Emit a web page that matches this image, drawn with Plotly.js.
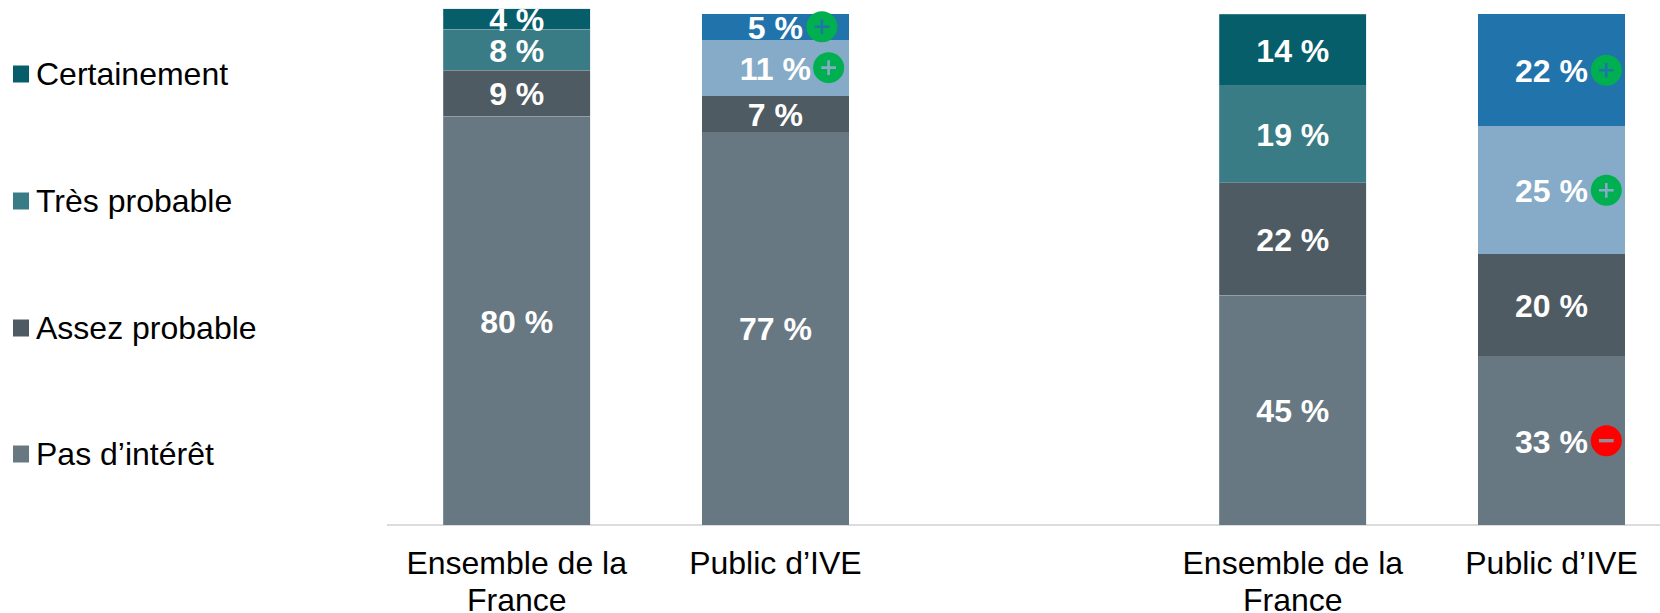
<!DOCTYPE html>
<html>
<head>
<meta charset="utf-8">
<script src="https://cdn.plot.ly/plotly-3.0.1.min.js"></script>
<style>html,body{margin:0;padding:0;background:#fff;overflow:hidden}</style>
</head>
<body>
<div id="chart" style="width:1660px;height:613px"></div>
<script>
// ---- data ----
var categoryFirstLine = ["Ensemble de la", "Public d’IVE", "Ensemble de la", "Public d’IVE"];
var categorySecondLine = ["France", "", "France", ""];
var seriesNames = ["Pas d’intérêt", "Assez probable", "Très probable", "Certainement"];
var pasInteret = [80, 77, 45, 33];
var assezProbable = [9, 7, 22, 20];
var tresProbable = [8, 11, 19, 25];
var certainement = [4, 5, 14, 22];
// significance flags: [bar index, series index, sign]
var badgeBar = [1, 1, 3, 3, 3];
var badgeSeries = [3, 2, 3, 2, 0];
var badgeSign = ["+", "+", "+", "+", "-"];

// ---- style / layout ----
var FONT = "Liberation Sans, Arial, sans-serif";
var xPos = [0, 1, 3, 4];
var pxPerUnit = 258.7;
var pxPerPct = 5.11;
var barWidth = 0.568;
var colorsA = ["#687882", "#4f5b62", "#3a7c85", "#075e6b"];
var colorsB = ["#687882", "#4f5b62", "#85abc8", "#2173ab"];
var badgeDx = [46.5, 53.2, 54.8, 54.8, 54.8];
var allSeries = [pasInteret, assezProbable, tresProbable, certainement];

function stackMid(bar, series) {
  var sum = 0;
  for (var i = 0; i < series; i++) sum += allSeries[i][bar];
  return sum + allSeries[series][bar] / 2;
}

var traces = allSeries.map(function (vals, s) {
  return {
    type: "bar",
    name: seriesNames[s],
    x: xPos,
    y: vals,
    width: barWidth,
    showlegend: false,
    hoverinfo: "skip",
    textposition: "none",
    cliponaxis: false,
    marker: {
      color: [colorsA[s], colorsB[s], colorsA[s], colorsB[s]],
      line: { color: "rgba(190,200,206,0.4)", width: [0.75, 0, 0.75, 0] }
    }
  };
});

// value labels, one text trace per series, sitting at each segment's middle
allSeries.forEach(function (vals, s) {
  traces.push({
    type: "scatter", mode: "text", x: xPos,
    y: vals.map(function (v, b) { return stackMid(b, s) - 4 / pxPerPct; }),
    text: vals.map(function (v) { return v + " %"; }),
    textposition: "middle center",
    textfont: { family: FONT, size: 32, color: "#ffffff", weight: 700 },
    showlegend: false, hoverinfo: "skip", cliponaxis: false
  });
});

var bx = badgeBar.map(function (b, i) { return xPos[b] + badgeDx[i] / pxPerUnit; });
var by = badgeBar.map(function (b, i) { return stackMid(b, badgeSeries[i]); });

traces.push({
  type: "scatter", mode: "markers", x: bx, y: by, showlegend: false, hoverinfo: "skip", cliponaxis: false,
  marker: { symbol: "circle", size: 31, line: { width: 0 },
    color: badgeSign.map(function (s) { return s === "+" ? "#00b050" : "#ff0000"; }) }
});
traces.push({
  type: "scatter", mode: "markers", x: bx, y: by, showlegend: false, hoverinfo: "skip", cliponaxis: false,
  marker: {
    symbol: badgeSign.map(function (s) { return s === "+" ? "cross-thin" : "line-ew"; }),
    size: 10.5, color: "rgba(0,0,0,0)",
    line: { width: badgeSign.map(function (s) { return s === "+" ? 2.6 : 3.4; }),
      color: badgeBar.map(function (b, i) { return badgeSign[i] === "+" ? colorsB[badgeSeries[i]] : "#8f8f98"; }) }
  }
});

// legend built as paper-anchored squares and labels
var legendRows = [74, 201, 328, 454];
var legendOrder = [3, 2, 1, 0];
var W = 1660, H = 613;
var shapes = [], annotations = [];
legendOrder.forEach(function (s, i) {
  var yc = legendRows[i];
  shapes.push({ type: "rect", xref: "paper", yref: "paper", layer: "above",
    x0: (13 - 387) / (W - 387), x1: (29 - 387) / (W - 387),
    y0: (525 - (yc + 8.5)) / 525, y1: (525 - (yc - 8.5)) / 525,
    fillcolor: colorsA[s], line: { width: 0 } });
  annotations.push({ xref: "paper", yref: "paper", showarrow: false,
    x: (34 - 387) / (W - 387), y: (525 - yc) / 525, xanchor: "left", yanchor: "middle",
    text: seriesNames[s], font: { family: FONT, size: 32, color: "#000000" } });
});
// second line of the axis labels, tighter than Plotly's own line spacing
categorySecondLine.forEach(function (t, b) {
  if (!t) return;
  annotations.push({ xref: "x", yref: "paper", showarrow: false, x: xPos[b], y: (525 - 599.5) / 525,
    xanchor: "center", yanchor: "middle", text: t,
    font: { family: FONT, size: 32, color: "#000000" } });
});

var layout = {
  width: W, height: H,
  margin: { l: 387, r: 0, t: 0, b: 88, pad: 0 },
  paper_bgcolor: "#ffffff", plot_bgcolor: "#ffffff",
  barmode: "stack", showlegend: false,
  font: { family: FONT, color: "#000000" },
  xaxis: { type: "linear", range: [-0.5014, 4.4194], tickmode: "array", tickvals: xPos, ticktext: categoryFirstLine,
    ticks: "", showgrid: false, zeroline: false, showline: false, ticklabelstandoff: 16,
    tickfont: { family: FONT, size: 32, color: "#000000" }, tickangle: 0, fixedrange: true },
  yaxis: { range: [0, 102.74], showticklabels: false, ticks: "", showgrid: false, zeroline: true,
    zerolinecolor: "#dcdcdc", zerolinewidth: 2, showline: false, fixedrange: true },
  shapes: shapes, annotations: annotations
};
Plotly.newPlot("chart", traces, layout, { displayModeBar: false, staticPlot: true });
</script>
</body>
</html>
